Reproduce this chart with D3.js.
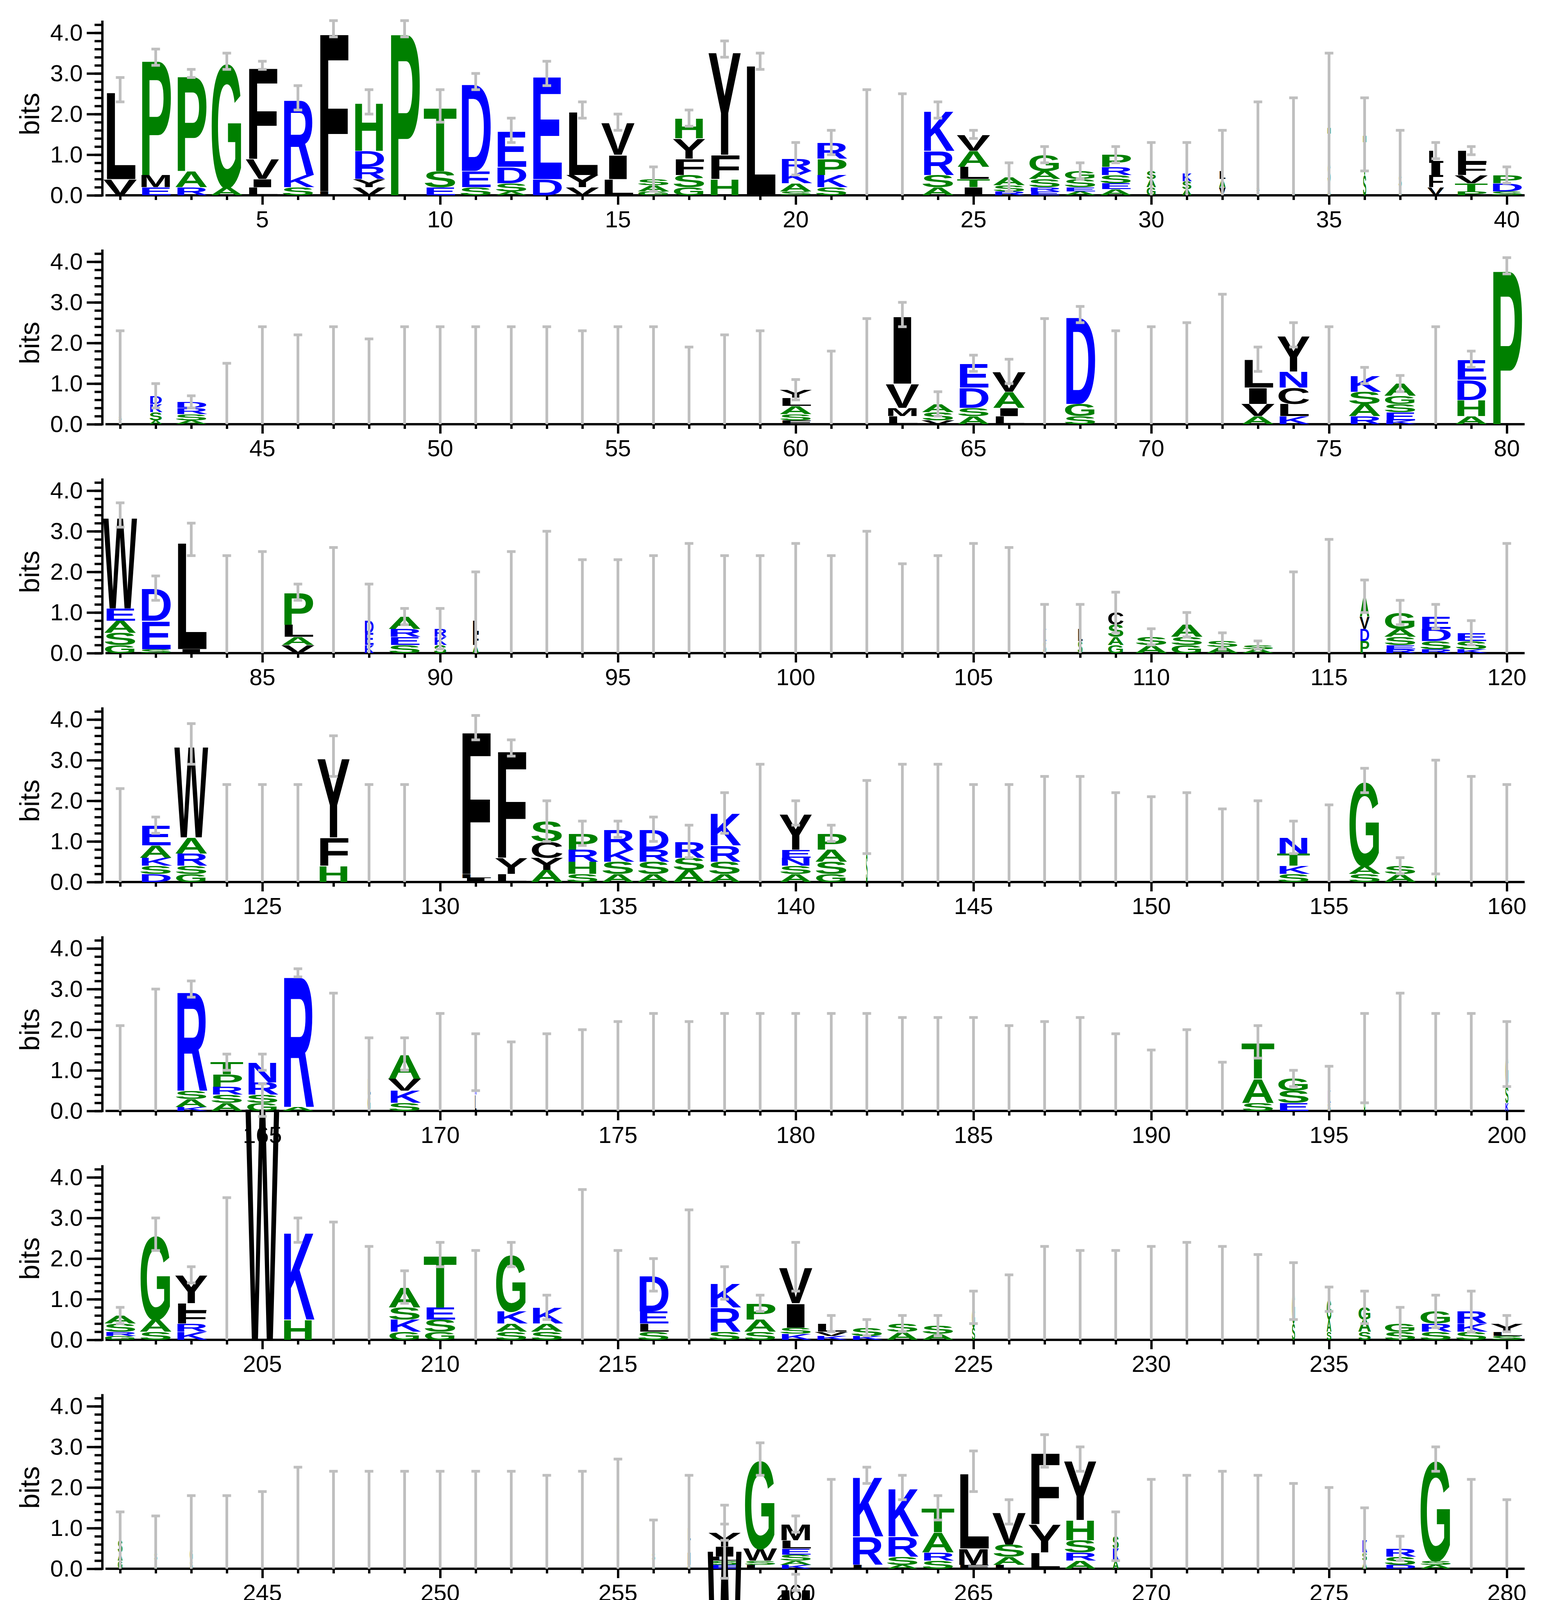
<!DOCTYPE html>
<html>
<head>
<meta charset="utf-8">
<script src="https://cdn.jsdelivr.net/npm/d3@7"></script>
<style>body{margin:0;background:#fff}</style>
</head>
<body>
<svg id="logo"></svg>
<script>
// each entry: "letters top-first with bits | error bar top | column width factor"
var row1 = ["L2.2 V.4|2.9","P2.9 M.3 E.2|3.6","P2.4 A.4 R.2|2.9","G3.1 A.2|3.5","F2.3 V.5 I.2 L.2|3.3",
  "R1.9 K.3 S.2|2.7","F4.0 L.1|4.3","H1.2 D.4 R.3 Y.2 V.2|2.6","P4.1|4.3","T1.6 S.4 E.2|2.6",
  "D2.2 E.4 S.2|3.0","E.9 D.4 S.2 A.1|1.9","E2.6 D.4|3.3","L1.6 Y.3 V.2|2.3","V.8 I.6 L.4|2.0",
  "S.15 A.15 G.1|.7","H.5 Y.5 F.4 S.3 G.2|2.1","Y2.6 F.6 H.4|3.8","L3.3|3.5","R.3 K.3 A.2 S.1|1.3",
  "R.4 P.4 K.3 S.2|1.6","S.05|2.6|.05","A.05|2.5|.05","K1.0 R.6 S.3 A.2|2.3","V.4 A.4 L.3 T.2 I.2|1.6",
  "A.2 S.15 R.1|.8","G.4 A.2 S.2 R.1 E.1|1.2","G.2 S.2 E.1 A.1|.8","P.3 R.2 S.2 E.15 A.15|1.2","S.2 A.2 G.2|1.3|.3",
  "K.2 S.2 A.15|1.3|.3","L.2 A.2 V.2|1.6|.2","S.1 A.1|2.3|.1","S.1|2.4|.1","T.9 S.5 A.3|3.5|.1",
  "T1.0 S.5|2.4|.1","S.3 A.2|1.6|.1","L.3 I.3 F.3 V.2|1.3|.5","L.3 F.3 V.2 T.2 P.1|1.2","P.2 D.2 S.1|.7"];
var row2 = ["S.1 A.1|2.3|.1","D.2 K.2 S.2 A.1|1.0|.4","D.15 R.15 S.15 A.1|.7","S.05|1.5|.05","L.1|2.4|.05",
  "S.05|2.2|.05","S.05|2.4|.05","A.05|2.1|.05","S.05|2.4|.05","S.05|2.4|.05",
  "K.05|2.4|.05","S.05|2.4|.05","S.05|2.4|.05","S.05|2.3|.05","S.05|2.4|.05",
  "S.05|2.4|.05","S.3 G.2|1.9|.05","S.3 K.2|2.2|.05","L.4 K.3|2.3|.05","Y.2 L.2 A.2 S.15 F.1|1.1",
  "S.05|1.8|.05","L.4 G.3|2.6|.05","I1.7 V.6 M.2 L.2|3.0","A.2 S.2 V.1|.8","E.6 D.5 S.2 A.2|1.7",
  "V.5 A.4 I.2 L.2|1.6","L.6 G.5|2.6|.05","D2.2 G.3 S.2|2.9","S.05|2.3|.05","K.3 S.2|2.4|.05",
  "K.6 D.5|2.5|.05","G.8 S.5|3.2|.05","L.7 I.4 V.3 A.2|1.9","Y.9 N.4 C.4 L.3 K.2|2.5","S.05|2.4|.05",
  "K.4 S.3 A.3 R.2|1.4","A.3 G.2 S.2 E.2 K.1|1.2","S.05|2.4|.05","E.5 D.5 H.4 A.2|1.8","P3.9|4.1"];
var row3 = ["W2.3 E.3 A.3 S.3 G.2|3.7","D.8 E.7 S.1|1.9","L2.7 I.1|3.2","S.05|2.4|.05","S.05|2.5|.05",
  "P.8 L.3 A.2 V.2|1.7","S.05|2.6|.05","D.3 E.3 K.2|1.7|.3","A.3 R.2 E.2 S.2|1.1","R.2 K.2 S.2|1.1|.4",
  "L.3 F.3 A.2|2.0|.2","K.5 D.5|2.5|.05","G.8 L.7|3.0|.05","S.05|2.3|.05","S.05|2.3|.05",
  "K.05|2.4|.05","S.05|2.7|.05","G.3|2.4|.05","S.05|2.4|.05","S.05|2.7|.05",
  "S.05|2.4|.05","G.3|3.0|.05","S.05|2.2|.05","G.3|2.4|.05","G.5|2.7|.05",
  "G.5|2.6|.05","K.3 S.3|1.2|.1","L.3 S.3|1.2|.15","C.3 S.3 A.2 G.2|1.5|.5","S.2 A.2|.6",
  "A.3 S.2 G.2|1.0","S.15 A.15|.5","S.1 A.1|.3","K.2|2.0|.05","S.3|2.8|.05",
  "A.5 V.3 D.3 P.3|1.8|.3","G.4 A.2 S.2 E.1 R.1|1.3","E.3 D.3 S.2 R.1|1.2","E.2 S.2 K.1|.8","S.05|2.7|.05"];
var row4 = ["G.4 S.3|2.3|.05","E.5 A.3 K.2 S.2 D.2|1.6","W2.3 A.4 R.3 S.2 G.2|3.9","S.05|2.4|.05","S.05|2.4|.05",
  "S.05|2.4|.05","Y2.0 F.7 H.4|3.6","S.05|2.4|.05","S.05|2.4|.05","|0",
  "F3.6 L.1 I.1|4.1","F2.7 Y.4 L.2|3.5","S.5 C.4 Y.3 A.3|2.0","P.4 R.3 H.3 S.2|1.5","R.5 K.3 S.3 A.2|1.5",
  "D.5 R.3 S.3 A.2|1.6","R.4 S.3 A.3|1.4","K.8 R.4 S.3 A.2|2.2","S.05|2.9|.05","Y.9 E.2 N.2 S.2 A.2|2.0",
  "P.4 A.3 S.3 G.2|1.4","G.9 S.7|2.5|.05","K.3|2.9|.05","S.3|2.9|.05","G.4|2.4|.05",
  "G.3|2.4|.05","S.3|2.6|.05","S.4|2.6|.05","S.05|2.2|.05","K.3|2.1|.05",
  "G.3|2.2|.05","G.4|1.8|.05","G.5|2.0|.05","N.4 T.3 K.2 S.2|1.5","K.4|1.9|.05",
  "G2.1 A.2 S.2|2.8","S.2 A.2|.6","G1.0 S.6|3.0|.05","K.6 L.3|2.6|.05","S.05|2.4|.05"];
var row5 = ["G.4 S.3|2.1|.05","G.8 L.5|3.0|.05","R2.5 S.2 A.2 K.1|3.2","T.3 P.3 R.2 S.2 A.2|1.4","N.5 R.3 S.2 G.2|1.4",
  "R3.3 A.1|3.5","S.05|2.9|.05","L.4 G.4|1.8|.1","A.6 V.3 K.3 S.2|1.8","L.5 S.3|2.4|.05",
  "K.8 L.4|1.9|.05","G.4 S.3|1.7|.05","G.4|1.9|.05","S.3|2.0|.05","G.4|2.2|.05",
  "K.5 S.3|2.4|.05","S.05|2.2|.05","G.4|2.4|.05","S.05|2.4|.05","S.05|2.4|.05",
  "S.05|2.4|.05","S.05|2.4|.05","S.05|2.3|.05","K.3|2.3|.05","S.3|2.3|.05",
  "S.05|2.1|.05","S.05|2.2|.05","K.6 S.4|2.3|.05","L.4 G.3|1.9|.05","S.3|1.5|.05",
  "G.4|2.0|.05","G.3|1.2|.05","T.9 A.6 S.2|2.1","G.3 S.3 E.2|1.0","K.3 S.2|1.1|.1",
  "K.8 G.5|2.4|.05","K.6 G.6|2.9|.05","K.5 S.5|2.4|.05","G.6 K.4|2.4|.05","G.8 S.4 K.2|2.2|.1"];
var row6 = ["A.2 S.2 R.1 G.1|.8","G2.1 A.3 S.2|3.0","Y.7 L.2 F.3 R.2 K.2|1.8","S.05|3.5|.05","W5.9|6.3",
  "K2.2 H.5|3.0","S.05|2.9|.05","G.5 L.4|2.3|.05","A.5 S.3 K.3 G.2|1.7","T1.3 E.3 S.3 G.2|2.4",
  "S.05|2.2|.05","G1.4 K.3 A.2 S.2|2.4","K.4 A.2 S.2|1.1","G.5 S.3|3.7|.05","S.05|2.2|.05",
  "D.9 E.3 L.2 S.2|2.0","L.5 K.3|3.2|.03","K.6 R.6 S.2|1.8","P.4 A.3 S.2|1.1","V.9 I.6 S.15 K.15|2.4",
  "L.2 V.1 K.1|.6","S.2 K.1|.5","S.2 A.2|.6","S.2 A.15|.6","G.5 S.3|1.2|.1",
  "S.05|1.6|.05","S.3|2.3|.05","S.05|2.2|.05","S.05|2.2|.05","S.05|2.3|.05",
  "S.05|2.4|.05","S.05|2.3|.05","K.3|2.1|.05","G.8 S.4|1.9|.1","G.5 A.3 S.2|1.3|.15",
  "G.3 A.3 S.2|1.2|.4","G.2 S.2|.8","G.3 R.2 S.2|1.1","R.3 K.2 S.2|1.2","Y.2 L.1 S.1|.6"];
var row7 = ["S.3 A.2 G.2|1.4|.15","S.2 A.2|1.3|.1","G.3 S.2|1.8|.1","K.2 S.2|1.8|.05","S.1|1.9|.05",
  "A.1|2.5|.05","S.05|2.4|.05","S.05|2.4|.05","K.1|2.4|.05","S.05|2.4|.05",
  "S.05|2.4|.05","S.05|2.4|.05","S.05|2.3|.05","S.05|2.4|.05","G.6 S.4 A.3|2.7|.08",
  "S.2 A.2|1.2|.1","L.3 I.3 M.3 G.1|2.3|.1","Y.35 I.25 L.1 S.1 E.1|1.1","G2.2 W.3 S.1 L.1|3.1","M.4 L.2 E.15 S.15 A.1 K.1|1.3",
  "K.1|2.2|.05","K1.5 R.7 L.1|2.5","K1.2 R.5 S.2 A.1|2.3","T.6 A.5 R.2 S.2|1.8","L1.9 M.4 F.1|2.9",
  "V.8 S.3 A.2 L.1|1.7","F1.8 Y.7 L.4|3.3","Y1.5 H.5 S.3 R.2 A.2|3.0","S.3 K.3 A.2|1.4|.2","S.05|2.2|.05",
  "S.05|2.3|.05","S.05|2.4|.05","S.05|2.3|.05","S.05|2.1|.05","S.05|2.0|.05",
  "K.3 S.2 A.2|1.5|.15","R.2 S.2 D.1|.8","G2.5 S.1 A.1|3.0","K.4 S.3|2.2|.05","S.05|1.7|.05"];
var row8 = ["R.8 K.4 S.3 A.2 E.1|2.0","A.6 S.3 R.2 E.2|1.6","P.7 A.3 G.3 S.2 E.1|1.8","K.3 R.3 S.2 A.2|1.3","S.05|2.7|.05",
  "S.05|2.4|.05","S.05|2.7|.05","S.05|2.7|.05","G1.9 S.2 A.2|2.5","S.2 A.1|.45",
  "K.2|2.1|.05","S.05|2.4|.05","S.05|2.0|.05","S.05|2.1|.05","K.9 R.4 S.3 A.2|2.0",
  "T2.1 S.3 A.1|2.9","D.5 G.3 N.3 S.2|1.4","W6.3|7.2","V.6 I.3 L.1 A.1|1.3","M5.0 L.2 I.1|5.5",
  "H2.5 N.5 S.2 Q.1|3.8","E3.1 Q.3|3.8","Y2.6 F.7 L.2|3.9","R1.2 H.3 A.2 S.2|2.2","L1.8 V.3 I.2|2.6",
  "E3.3|3.8|.1"];
var rows = [row1, row2, row3, row4, row5, row6, row7, row8];
var yTicks = [0, 1, 2, 3, 4];

var colors = {};
"RKDENQ".split("").forEach(c => colors[c] = "#0000ff");
"SGHTAP".split("").forEach(c => colors[c] = "#008000");
"YVMCLFIW".split("").forEach(c => colors[c] = "#000000");

var W = 3967, H = 4750;
var left = 262, colW = 91, rowGap = 586, base0 = 500, bitH = 104;
var font = "'Liberation Sans', Arial, sans-serif";
var fs = 100, capH = 0.716 * fs;

var svg = d3.select("#logo").attr("width", W).attr("height", H)
    .style("font-family", font);

// measure letter advance widths
var meas = svg.append("text").attr("font-size", fs).attr("font-weight", "bold");
var adv = {};
Object.keys(colors).forEach(c => { meas.text(c); adv[c] = meas.node().getComputedTextLength(); });
meas.remove();

function parse(s) {
    var parts = s.split("|");
    var letters = parts[0].trim() ? parts[0].trim().split(/\s+/).map(t => ({ c: t[0], v: parseFloat(t.slice(1)) })) : [];
    return { letters: letters, hi: parseFloat(parts[1]), w: parts[2] ? parseFloat(parts[2]) : 1 };
}

rows.forEach(function (row, r) {
    var start = r * 40 + 1;
    var base = base0 + r * rowGap;
    var n = row.length;
    var x = d3.scaleLinear().domain([start - 0.5, start + 39.5]).range([left, left + 40 * colW]);
    var y = d3.scaleLinear().domain([0, 4]).range([base, base - 4 * bitH]);
    var g = svg.append("g");

    // y axis
    var ya = g.append("g").attr("transform", `translate(${left},0)`)
        .call(d3.axisLeft(y).tickValues(d3.range(0, 4.3, 0.2)).tickSize(20).tickFormat(""));
    ya.select(".domain").remove();
    ya.selectAll(".tick line").attr("stroke-width", 6);
    ya.append("line").attr("x1", 0).attr("x2", 0).attr("y1", base + 3).attr("y2", y(4.3))
        .attr("stroke", "#000").attr("stroke-width", 6);
    var yb = g.append("g").attr("transform", `translate(${left},0)`)
        .call(d3.axisLeft(y).tickValues(yTicks).tickSize(40).tickPadding(10).tickFormat(d3.format(".1f")));
    yb.select(".domain").remove();
    yb.selectAll(".tick line").attr("stroke-width", 6);
    yb.selectAll("text").attr("font-size", 60).attr("font-family", font).attr("fill", "#000");

    g.append("text").attr("transform", `translate(100,${y(2)}) rotate(-90)`)
        .attr("text-anchor", "middle").attr("font-size", 70).text("bits");

    // x axis
    var xa = g.append("g").attr("transform", `translate(0,${base})`)
        .call(d3.axisBottom(x).tickValues(d3.range(start, start + n)).tickSize(12).tickFormat(""));
    xa.select(".domain").remove();
    xa.selectAll(".tick line").attr("stroke-width", 6);
    xa.selectAll(".tick line").filter(d => d % 5 === 0).attr("y2", 24);
    g.append("line").attr("x1", left + 8).attr("x2", x(start + n - 0.5)).attr("y1", base).attr("y2", base)
        .attr("stroke", "#000").attr("stroke-width", 6);
    g.selectAll(".xl").data(d3.range(start, start + n).filter(d => d % 5 === 0)).join("text")
        .attr("x", d => x(d)).attr("y", base + 82).attr("text-anchor", "middle")
        .attr("font-size", 60).text(d => d);

    // stacks
    row.forEach(function (s, i) {
        var p = parse(s), pos = start + i;
        var cx = x(pos), lw = colW * 0.95 * p.w;
        var acc = 0;
        p.letters.slice().reverse().forEach(function (L) {
            var h = L.v * bitH;
            if (h > 0.5) {
                g.append("text").text(L.c)
                    .attr("font-size", fs).attr("font-weight", "bold").attr("fill", colors[L.c] || "#000")
                    .attr("transform", `translate(${cx - lw / 2},${y(acc)}) scale(${lw / adv[L.c]},${h / capH})`);
            }
            acc += L.v;
        });
        if (p.hi > 0) {
            var lo = Math.max(0, 2 * acc - p.hi);
            var eb = g.append("g").attr("stroke", "#bfbfbf").attr("stroke-width", 7);
            eb.append("line").attr("x1", cx).attr("x2", cx).attr("y1", y(lo)).attr("y2", y(p.hi));
            eb.append("line").attr("x1", cx - 11).attr("x2", cx + 11).attr("y1", y(p.hi)).attr("y2", y(p.hi));
            if (lo > 0) eb.append("line").attr("x1", cx - 11).attr("x2", cx + 11).attr("y1", y(lo)).attr("y2", y(lo));
        }
    });
});

svg.append("text").attr("x", 3900).attr("y", 4730).attr("text-anchor", "end")
    .attr("font-size", 46).text("WebLogo 3.4");
</script>
</body>
</html>
